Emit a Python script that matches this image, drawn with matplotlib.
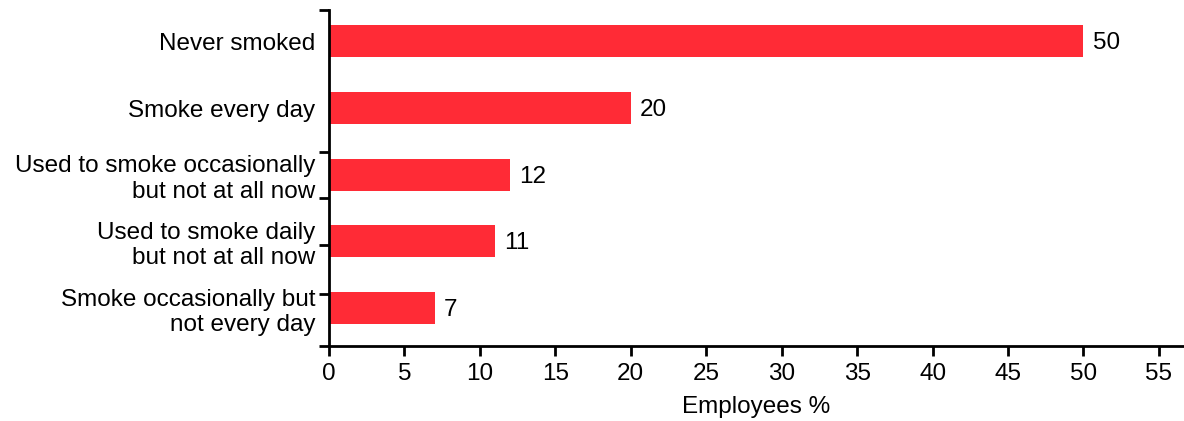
import numpy as np
import matplotlib.pyplot as plt

categories = ["Never smoked", "Smoke every day",
              "Used to smoke occasionally\nbut not at all now",
              "Used to smoke daily\nbut not at all now",
              "Smoke occasionally but\nnot every day"]
values = [50, 20, 12, 11, 7]
xticks = np.arange(0, 60, 5)
# odd little marks GraphPad left on the category axis
ymarks = [-0.47, 1.66, 2.35, 3.06, 3.79, 4.57]

plt.rcParams['font.family'] = ['Liberation Sans', 'DejaVu Sans']
fs = 17.5

fig = plt.figure(figsize=(11.84, 4.21), dpi=100)
ax = fig.add_axes([0.2779, 0.1781, 0.7213, 0.7981])

pos = np.arange(len(categories))
ax.barh(pos, values, height=0.48, color="#FF2B36", zorder=2)
for p, v in zip(pos, values):
    ax.text(v + 0.6, p + 0.03, str(v), va="center", ha="left", fontsize=fs)

ax.set_xlim(0, 56.6)
ax.set_ylim(4.57, -0.47)
ax.set_xticks(xticks)
ax.set_xticklabels([str(t) for t in xticks], fontsize=fs)
ax.set_xlabel("Employees %", fontsize=fs, labelpad=8)

ax.set_yticks(pos)
ax.set_yticklabels(categories, fontsize=fs, ha="right")
ax.tick_params(axis="y", length=0, pad=10)
ax.set_yticks(ymarks, minor=True)
ax.tick_params(axis="y", which="minor", length=7, width=2)
ax.tick_params(axis="x", length=7, width=2, pad=5)

for s in ["top", "right"]:
    ax.spines[s].set_visible(False)
for s in ["left", "bottom"]:
    ax.spines[s].set_linewidth(2)

fig.savefig("out.png", dpi=100)
